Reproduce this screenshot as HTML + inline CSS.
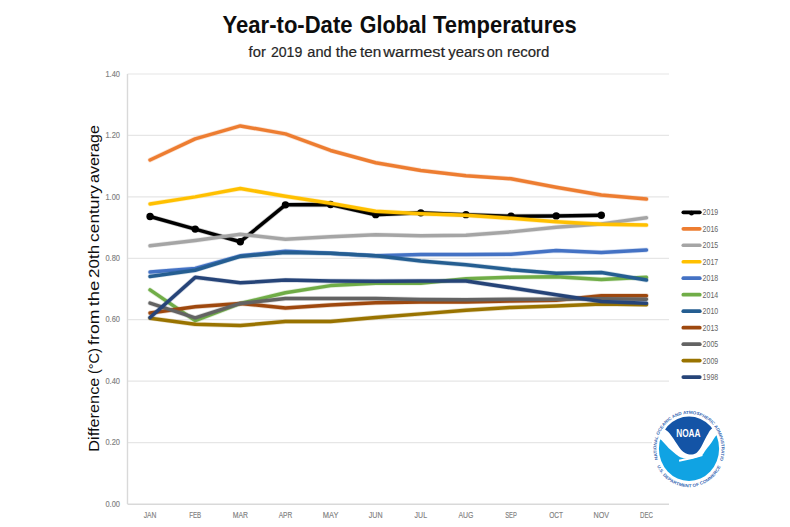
<!DOCTYPE html>
<html><head><meta charset="utf-8"><style>
html,body{margin:0;padding:0;background:#fff;width:790px;height:527px;overflow:hidden}
svg{display:block}
text{font-family:"Liberation Sans",sans-serif}
</style></head><body>
<svg width="790" height="527" viewBox="0 0 790 527">
<rect width="790" height="527" fill="#fff"/>
<text x="222.60" y="32.7" font-size="23.2" font-weight="bold" fill="#0d0d0d" textLength="129.90" lengthAdjust="spacingAndGlyphs">Year-to-Date</text>
<text x="359.80" y="32.7" font-size="23.2" font-weight="bold" fill="#0d0d0d" textLength="66.90" lengthAdjust="spacingAndGlyphs">Global</text>
<text x="433.10" y="32.7" font-size="23.2" font-weight="bold" fill="#0d0d0d" textLength="143.50" lengthAdjust="spacingAndGlyphs">Temperatures</text>
<text x="248.60" y="57.0" font-size="15.3" fill="#262626" stroke="#262626" stroke-width="0.2" textLength="17.20" lengthAdjust="spacingAndGlyphs">for</text>
<text x="270.90" y="57.0" font-size="15.3" fill="#262626" stroke="#262626" stroke-width="0.2" textLength="31.40" lengthAdjust="spacingAndGlyphs">2019</text>
<text x="307.30" y="57.0" font-size="15.3" fill="#262626" stroke="#262626" stroke-width="0.2" textLength="24.30" lengthAdjust="spacingAndGlyphs">and</text>
<text x="335.70" y="57.0" font-size="15.3" fill="#262626" stroke="#262626" stroke-width="0.2" textLength="21.30" lengthAdjust="spacingAndGlyphs">the</text>
<text x="360.00" y="57.0" font-size="15.3" fill="#262626" stroke="#262626" stroke-width="0.2" textLength="21.30" lengthAdjust="spacingAndGlyphs">ten</text>
<text x="383.30" y="57.0" font-size="15.3" fill="#262626" stroke="#262626" stroke-width="0.2" textLength="61.80" lengthAdjust="spacingAndGlyphs">warmest</text>
<text x="448.20" y="57.0" font-size="15.3" fill="#262626" stroke="#262626" stroke-width="0.2" textLength="36.40" lengthAdjust="spacingAndGlyphs">years</text>
<text x="486.70" y="57.0" font-size="15.3" fill="#262626" stroke="#262626" stroke-width="0.2" textLength="16.10" lengthAdjust="spacingAndGlyphs">on</text>
<text x="506.90" y="57.0" font-size="15.3" fill="#262626" stroke="#262626" stroke-width="0.2" textLength="42.50" lengthAdjust="spacingAndGlyphs">record</text>
<g transform="translate(99.3,0) rotate(-90)">
<text x="-451.70" y="0" font-size="13.8" fill="#0d0d0d" textLength="74.10" lengthAdjust="spacingAndGlyphs">Difference</text>
<text x="-374.10" y="0" font-size="13.8" fill="#0d0d0d" textLength="25.90" lengthAdjust="spacingAndGlyphs">(°C)</text>
<text x="-344.90" y="0" font-size="13.8" fill="#0d0d0d" textLength="35.30" lengthAdjust="spacingAndGlyphs">from</text>
<text x="-306.30" y="0" font-size="13.8" fill="#0d0d0d" textLength="25.60" lengthAdjust="spacingAndGlyphs">the</text>
<text x="-277.90" y="0" font-size="13.8" fill="#0d0d0d" textLength="33.00" lengthAdjust="spacingAndGlyphs">20th</text>
<text x="-241.90" y="0" font-size="13.8" fill="#0d0d0d" textLength="56.80" lengthAdjust="spacingAndGlyphs">century</text>
<text x="-183.00" y="0" font-size="13.8" fill="#0d0d0d" textLength="57.80" lengthAdjust="spacingAndGlyphs">average</text>
</g>
<line x1="127.5" y1="442.57" x2="669.0" y2="442.57" stroke="#e6e6e6" stroke-width="1.2"/>
<line x1="127.5" y1="381.14" x2="669.0" y2="381.14" stroke="#e6e6e6" stroke-width="1.2"/>
<line x1="127.5" y1="319.71" x2="669.0" y2="319.71" stroke="#e6e6e6" stroke-width="1.2"/>
<line x1="127.5" y1="258.29" x2="669.0" y2="258.29" stroke="#e6e6e6" stroke-width="1.2"/>
<line x1="127.5" y1="196.86" x2="669.0" y2="196.86" stroke="#e6e6e6" stroke-width="1.2"/>
<line x1="127.5" y1="135.43" x2="669.0" y2="135.43" stroke="#e6e6e6" stroke-width="1.2"/>
<line x1="127.5" y1="74.00" x2="669.0" y2="74.00" stroke="#e6e6e6" stroke-width="1.2"/>
<line x1="127.5" y1="504.3" x2="669.0" y2="504.3" stroke="#d9d9d9" stroke-width="1.4"/>
<line x1="127.5" y1="74.0" x2="127.5" y2="504.0" stroke="#d9d9d9" stroke-width="1.4"/>
<text x="120.0" y="506.70" font-size="9.8" fill="#808080" stroke="#808080" stroke-width="0.15" text-anchor="end" textLength="14.6" lengthAdjust="spacingAndGlyphs">0.00</text>
<text x="120.0" y="445.27" font-size="9.8" fill="#808080" stroke="#808080" stroke-width="0.15" text-anchor="end" textLength="14.6" lengthAdjust="spacingAndGlyphs">0.20</text>
<text x="120.0" y="383.84" font-size="9.8" fill="#808080" stroke="#808080" stroke-width="0.15" text-anchor="end" textLength="14.6" lengthAdjust="spacingAndGlyphs">0.40</text>
<text x="120.0" y="322.41" font-size="9.8" fill="#808080" stroke="#808080" stroke-width="0.15" text-anchor="end" textLength="14.6" lengthAdjust="spacingAndGlyphs">0.60</text>
<text x="120.0" y="260.99" font-size="9.8" fill="#808080" stroke="#808080" stroke-width="0.15" text-anchor="end" textLength="14.6" lengthAdjust="spacingAndGlyphs">0.80</text>
<text x="120.0" y="199.56" font-size="9.8" fill="#808080" stroke="#808080" stroke-width="0.15" text-anchor="end" textLength="14.6" lengthAdjust="spacingAndGlyphs">1.00</text>
<text x="120.0" y="138.13" font-size="9.8" fill="#808080" stroke="#808080" stroke-width="0.15" text-anchor="end" textLength="14.6" lengthAdjust="spacingAndGlyphs">1.20</text>
<text x="120.0" y="76.70" font-size="9.8" fill="#808080" stroke="#808080" stroke-width="0.15" text-anchor="end" textLength="14.6" lengthAdjust="spacingAndGlyphs">1.40</text>
<text x="143.71" y="517.9" font-size="9.2" fill="#808080" stroke="#808080" stroke-width="0.15" textLength="12.7" lengthAdjust="spacingAndGlyphs">JAN</text>
<text x="189.19" y="517.9" font-size="9.2" fill="#808080" stroke="#808080" stroke-width="0.15" textLength="12.0" lengthAdjust="spacingAndGlyphs">FEB</text>
<text x="232.66" y="517.9" font-size="9.2" fill="#808080" stroke="#808080" stroke-width="0.15" textLength="15.3" lengthAdjust="spacingAndGlyphs">MAR</text>
<text x="278.64" y="517.9" font-size="9.2" fill="#808080" stroke="#808080" stroke-width="0.15" textLength="13.6" lengthAdjust="spacingAndGlyphs">APR</text>
<text x="322.76" y="517.9" font-size="9.2" fill="#808080" stroke="#808080" stroke-width="0.15" textLength="15.6" lengthAdjust="spacingAndGlyphs">MAY</text>
<text x="368.79" y="517.9" font-size="9.2" fill="#808080" stroke="#808080" stroke-width="0.15" textLength="13.8" lengthAdjust="spacingAndGlyphs">JUN</text>
<text x="414.61" y="517.9" font-size="9.2" fill="#808080" stroke="#808080" stroke-width="0.15" textLength="12.4" lengthAdjust="spacingAndGlyphs">JUL</text>
<text x="458.44" y="517.9" font-size="9.2" fill="#808080" stroke="#808080" stroke-width="0.15" textLength="15.0" lengthAdjust="spacingAndGlyphs">AUG</text>
<text x="505.21" y="517.9" font-size="9.2" fill="#808080" stroke="#808080" stroke-width="0.15" textLength="11.7" lengthAdjust="spacingAndGlyphs">SEP</text>
<text x="549.29" y="517.9" font-size="9.2" fill="#808080" stroke="#808080" stroke-width="0.15" textLength="13.8" lengthAdjust="spacingAndGlyphs">OCT</text>
<text x="593.51" y="517.9" font-size="9.2" fill="#808080" stroke="#808080" stroke-width="0.15" textLength="15.6" lengthAdjust="spacingAndGlyphs">NOV</text>
<text x="639.99" y="517.9" font-size="9.2" fill="#808080" stroke="#808080" stroke-width="0.15" textLength="12.9" lengthAdjust="spacingAndGlyphs">DEC</text>
<polyline points="150.06,216.51 195.19,229.11 240.31,241.70 285.44,204.84 330.56,204.54 375.69,214.67 420.81,212.83 465.94,214.67 511.06,216.21 556.19,215.90 601.31,215.29" fill="none" stroke="#000000" stroke-width="4.9" stroke-opacity="0.22" stroke-linejoin="round" stroke-linecap="round"/>
<polyline points="150.06,216.51 195.19,229.11 240.31,241.70 285.44,204.84 330.56,204.54 375.69,214.67 420.81,212.83 465.94,214.67 511.06,216.21 556.19,215.90 601.31,215.29" fill="none" stroke="#000000" stroke-width="3.5" stroke-linejoin="round" stroke-linecap="round"/>
<circle cx="150.06" cy="216.51" r="3.7" fill="#000"/>
<circle cx="195.19" cy="229.11" r="3.7" fill="#000"/>
<circle cx="240.31" cy="241.70" r="3.7" fill="#000"/>
<circle cx="285.44" cy="204.84" r="3.7" fill="#000"/>
<circle cx="330.56" cy="204.54" r="3.7" fill="#000"/>
<circle cx="375.69" cy="214.67" r="3.7" fill="#000"/>
<circle cx="420.81" cy="212.83" r="3.7" fill="#000"/>
<circle cx="465.94" cy="214.67" r="3.7" fill="#000"/>
<circle cx="511.06" cy="216.21" r="3.7" fill="#000"/>
<circle cx="556.19" cy="215.90" r="3.7" fill="#000"/>
<circle cx="601.31" cy="215.29" r="3.7" fill="#000"/>
<polyline points="150.06,160.00 195.19,138.81 240.31,125.91 285.44,133.89 330.56,150.48 375.69,162.76 420.81,170.44 465.94,175.66 511.06,178.74 556.19,187.34 601.31,195.01 646.44,199.01" fill="none" stroke="#ed7d31" stroke-width="4.9" stroke-opacity="0.22" stroke-linejoin="round" stroke-linecap="round"/>
<polyline points="150.06,160.00 195.19,138.81 240.31,125.91 285.44,133.89 330.56,150.48 375.69,162.76 420.81,170.44 465.94,175.66 511.06,178.74 556.19,187.34 601.31,195.01 646.44,199.01" fill="none" stroke="#ed7d31" stroke-width="3.5" stroke-linejoin="round" stroke-linecap="round"/>
<polyline points="150.06,245.69 195.19,240.47 240.31,234.33 285.44,239.24 330.56,236.79 375.69,234.64 420.81,235.86 465.94,235.25 511.06,231.87 556.19,227.26 601.31,223.89 646.44,217.74" fill="none" stroke="#a5a5a5" stroke-width="4.9" stroke-opacity="0.22" stroke-linejoin="round" stroke-linecap="round"/>
<polyline points="150.06,245.69 195.19,240.47 240.31,234.33 285.44,239.24 330.56,236.79 375.69,234.64 420.81,235.86 465.94,235.25 511.06,231.87 556.19,227.26 601.31,223.89 646.44,217.74" fill="none" stroke="#a5a5a5" stroke-width="3.5" stroke-linejoin="round" stroke-linecap="round"/>
<polyline points="150.06,203.92 195.19,196.86 240.31,188.56 285.44,196.24 330.56,203.31 375.69,211.29 420.81,213.75 465.94,215.29 511.06,218.36 556.19,221.74 601.31,224.19 646.44,225.11" fill="none" stroke="#ffc000" stroke-width="4.9" stroke-opacity="0.22" stroke-linejoin="round" stroke-linecap="round"/>
<polyline points="150.06,203.92 195.19,196.86 240.31,188.56 285.44,196.24 330.56,203.31 375.69,211.29 420.81,213.75 465.94,215.29 511.06,218.36 556.19,221.74 601.31,224.19 646.44,225.11" fill="none" stroke="#ffc000" stroke-width="3.5" stroke-linejoin="round" stroke-linecap="round"/>
<polyline points="150.06,272.11 195.19,268.42 240.31,255.83 285.44,251.22 330.56,253.37 375.69,255.83 420.81,254.60 465.94,254.60 511.06,254.29 556.19,250.61 601.31,252.45 646.44,249.99" fill="none" stroke="#4472c4" stroke-width="4.9" stroke-opacity="0.22" stroke-linejoin="round" stroke-linecap="round"/>
<polyline points="150.06,272.11 195.19,268.42 240.31,255.83 285.44,251.22 330.56,253.37 375.69,255.83 420.81,254.60 465.94,254.60 511.06,254.29 556.19,250.61 601.31,252.45 646.44,249.99" fill="none" stroke="#4472c4" stroke-width="3.5" stroke-linejoin="round" stroke-linecap="round"/>
<polyline points="150.06,289.92 195.19,320.64 240.31,303.44 285.44,292.69 330.56,285.62 375.69,283.16 420.81,283.16 465.94,278.86 511.06,277.33 556.19,276.71 601.31,279.48 646.44,277.33" fill="none" stroke="#70ad47" stroke-width="4.9" stroke-opacity="0.22" stroke-linejoin="round" stroke-linecap="round"/>
<polyline points="150.06,289.92 195.19,320.64 240.31,303.44 285.44,292.69 330.56,285.62 375.69,283.16 420.81,283.16 465.94,278.86 511.06,277.33 556.19,276.71 601.31,279.48 646.44,277.33" fill="none" stroke="#70ad47" stroke-width="3.5" stroke-linejoin="round" stroke-linecap="round"/>
<polyline points="150.06,276.41 195.19,270.26 240.31,256.44 285.44,252.45 330.56,253.37 375.69,255.83 420.81,261.05 465.94,264.74 511.06,269.65 556.19,273.34 601.31,272.41 646.44,280.09" fill="none" stroke="#255e91" stroke-width="4.9" stroke-opacity="0.22" stroke-linejoin="round" stroke-linecap="round"/>
<polyline points="150.06,276.41 195.19,270.26 240.31,256.44 285.44,252.45 330.56,253.37 375.69,255.83 420.81,261.05 465.94,264.74 511.06,269.65 556.19,273.34 601.31,272.41 646.44,280.09" fill="none" stroke="#255e91" stroke-width="3.5" stroke-linejoin="round" stroke-linecap="round"/>
<polyline points="150.06,312.96 195.19,306.81 240.31,303.44 285.44,308.04 330.56,304.97 375.69,302.82 420.81,301.90 465.94,301.90 511.06,300.98 556.19,300.36 601.31,295.76 646.44,295.76" fill="none" stroke="#9e480e" stroke-width="4.9" stroke-opacity="0.22" stroke-linejoin="round" stroke-linecap="round"/>
<polyline points="150.06,312.96 195.19,306.81 240.31,303.44 285.44,308.04 330.56,304.97 375.69,302.82 420.81,301.90 465.94,301.90 511.06,300.98 556.19,300.36 601.31,295.76 646.44,295.76" fill="none" stroke="#9e480e" stroke-width="3.5" stroke-linejoin="round" stroke-linecap="round"/>
<polyline points="150.06,303.13 195.19,317.87 240.31,303.44 285.44,298.52 330.56,298.52 375.69,298.52 420.81,299.44 465.94,299.75 511.06,299.14 556.19,299.14 601.31,298.83 646.44,299.14" fill="none" stroke="#636363" stroke-width="4.9" stroke-opacity="0.22" stroke-linejoin="round" stroke-linecap="round"/>
<polyline points="150.06,303.13 195.19,317.87 240.31,303.44 285.44,298.52 330.56,298.52 375.69,298.52 420.81,299.44 465.94,299.75 511.06,299.14 556.19,299.14 601.31,298.83 646.44,299.14" fill="none" stroke="#636363" stroke-width="3.5" stroke-linejoin="round" stroke-linecap="round"/>
<polyline points="150.06,318.18 195.19,324.32 240.31,325.55 285.44,321.56 330.56,321.56 375.69,317.56 420.81,313.88 465.94,310.19 511.06,307.43 556.19,305.89 601.31,304.05 646.44,304.66" fill="none" stroke="#997300" stroke-width="4.9" stroke-opacity="0.22" stroke-linejoin="round" stroke-linecap="round"/>
<polyline points="150.06,318.18 195.19,324.32 240.31,325.55 285.44,321.56 330.56,321.56 375.69,317.56 420.81,313.88 465.94,310.19 511.06,307.43 556.19,305.89 601.31,304.05 646.44,304.66" fill="none" stroke="#997300" stroke-width="3.5" stroke-linejoin="round" stroke-linecap="round"/>
<polyline points="150.06,317.56 195.19,277.33 240.31,282.86 285.44,280.09 330.56,281.01 375.69,281.32 420.81,281.01 465.94,281.01 511.06,287.77 556.19,294.84 601.31,301.59 646.44,303.13" fill="none" stroke="#264478" stroke-width="4.9" stroke-opacity="0.22" stroke-linejoin="round" stroke-linecap="round"/>
<polyline points="150.06,317.56 195.19,277.33 240.31,282.86 285.44,280.09 330.56,281.01 375.69,281.32 420.81,281.01 465.94,281.01 511.06,287.77 556.19,294.84 601.31,301.59 646.44,303.13" fill="none" stroke="#264478" stroke-width="3.5" stroke-linejoin="round" stroke-linecap="round"/>
<line x1="683.3" y1="212.30" x2="699.8" y2="212.30" stroke="#000000" stroke-width="3.7" stroke-linecap="round"/>
<circle cx="691.5" cy="213.20" r="2.4" fill="#000"/>
<text x="702.6" y="215.20" font-size="9" fill="#666666" textLength="15.6" lengthAdjust="spacingAndGlyphs">2019</text>
<line x1="683.3" y1="228.78" x2="699.8" y2="228.78" stroke="#ed7d31" stroke-width="3.7" stroke-linecap="round"/>
<text x="702.6" y="231.68" font-size="9" fill="#666666" textLength="15.6" lengthAdjust="spacingAndGlyphs">2016</text>
<line x1="683.3" y1="245.26" x2="699.8" y2="245.26" stroke="#a5a5a5" stroke-width="3.7" stroke-linecap="round"/>
<text x="702.6" y="248.16" font-size="9" fill="#666666" textLength="15.6" lengthAdjust="spacingAndGlyphs">2015</text>
<line x1="683.3" y1="261.74" x2="699.8" y2="261.74" stroke="#ffc000" stroke-width="3.7" stroke-linecap="round"/>
<text x="702.6" y="264.64" font-size="9" fill="#666666" textLength="15.6" lengthAdjust="spacingAndGlyphs">2017</text>
<line x1="683.3" y1="278.22" x2="699.8" y2="278.22" stroke="#4472c4" stroke-width="3.7" stroke-linecap="round"/>
<text x="702.6" y="281.12" font-size="9" fill="#666666" textLength="15.6" lengthAdjust="spacingAndGlyphs">2018</text>
<line x1="683.3" y1="294.70" x2="699.8" y2="294.70" stroke="#70ad47" stroke-width="3.7" stroke-linecap="round"/>
<text x="702.6" y="297.60" font-size="9" fill="#666666" textLength="15.6" lengthAdjust="spacingAndGlyphs">2014</text>
<line x1="683.3" y1="311.18" x2="699.8" y2="311.18" stroke="#255e91" stroke-width="3.7" stroke-linecap="round"/>
<text x="702.6" y="314.08" font-size="9" fill="#666666" textLength="15.6" lengthAdjust="spacingAndGlyphs">2010</text>
<line x1="683.3" y1="327.66" x2="699.8" y2="327.66" stroke="#9e480e" stroke-width="3.7" stroke-linecap="round"/>
<text x="702.6" y="330.56" font-size="9" fill="#666666" textLength="15.6" lengthAdjust="spacingAndGlyphs">2013</text>
<line x1="683.3" y1="344.14" x2="699.8" y2="344.14" stroke="#636363" stroke-width="3.7" stroke-linecap="round"/>
<text x="702.6" y="347.04" font-size="9" fill="#666666" textLength="15.6" lengthAdjust="spacingAndGlyphs">2005</text>
<line x1="683.3" y1="360.62" x2="699.8" y2="360.62" stroke="#997300" stroke-width="3.7" stroke-linecap="round"/>
<text x="702.6" y="363.52" font-size="9" fill="#666666" textLength="15.6" lengthAdjust="spacingAndGlyphs">2009</text>
<line x1="683.3" y1="377.10" x2="699.8" y2="377.10" stroke="#264478" stroke-width="3.7" stroke-linecap="round"/>
<text x="702.6" y="380.00" font-size="9" fill="#666666" textLength="15.6" lengthAdjust="spacingAndGlyphs">1998</text>
<rect x="652" y="404" width="80" height="84" fill="#fff"/>
<defs><clipPath id="cc"><ellipse cx="689.0" cy="448.7" rx="30.1" ry="32.21"/></clipPath>
<path id="arcT" d="M 658.00,459.48 A 32.6 34.88 0 1 1 720.00,459.48"/>
<path id="arcB" d="M 657.01,466.14 A 35.9 38.41 0 0 0 720.99,466.14"/>
</defs>
<g clip-path="url(#cc)">
<rect x="655" y="412" width="70" height="70" fill="#fff"/>
<path d="M 654.00,435.50 C 655.10,436.18 658.77,438.18 660.60,439.60 C 662.43,441.02 663.43,442.38 665.00,444.00 C 666.57,445.62 667.90,447.38 670.00,449.30 C 672.10,451.22 675.58,454.08 677.60,455.50 C 679.62,456.92 680.37,457.23 682.10,457.80 C 683.83,458.37 685.85,458.90 688.00,458.90 C 690.15,458.90 692.68,458.42 695.00,457.80 C 697.32,457.18 700.17,456.43 701.90,455.20 C 703.63,453.97 704.13,452.07 705.40,450.40 C 706.67,448.73 708.27,446.87 709.50,445.20 C 710.73,443.53 711.68,442.03 712.80,440.40 C 713.92,438.77 714.33,437.63 716.20,435.40 C 718.07,433.17 722.70,428.40 724.00,427.00 L 724,485 L 655,485 Z" fill="#10a3e3"/>
<path d="M 654.00,420.50 C 655.87,421.98 662.62,427.28 665.20,429.40 C 667.78,431.52 668.12,431.63 669.50,433.20 C 670.88,434.77 672.20,436.90 673.50,438.80 C 674.80,440.70 676.05,442.77 677.30,444.60 C 678.55,446.43 679.63,448.35 681.00,449.80 C 682.37,451.25 683.83,452.50 685.50,453.30 C 687.17,454.10 689.25,454.62 691.00,454.60 C 692.75,454.58 694.58,454.05 696.00,453.20 C 697.42,452.35 698.43,450.95 699.50,449.50 C 700.57,448.05 701.42,446.32 702.40,444.50 C 703.38,442.68 704.40,440.48 705.40,438.60 C 706.40,436.72 707.30,434.87 708.40,433.20 C 709.50,431.53 709.40,430.97 712.00,428.60 C 714.60,426.23 722.00,420.60 724.00,419.00 L 724,405 L 655,405 Z" fill="#1454a6"/>
<path d="M 679.1,460.7 Q 690,458.9 702.4,455.0" fill="none" stroke="#fff" stroke-width="1.9"/>
</g>
<text font-size="10.4" font-weight="bold" fill="#fff" x="676.2" y="436.9" textLength="24.4" lengthAdjust="spacingAndGlyphs">NOAA</text>
<text font-size="4.3" font-weight="bold" fill="#3a6ab4"><textPath href="#arcT" textLength="132" lengthAdjust="spacingAndGlyphs">NATIONAL OCEANIC AND ATMOSPHERIC ADMINISTRATION</textPath></text>
<text font-size="4.3" font-weight="bold" fill="#3a6ab4"><textPath href="#arcB" textLength="80" lengthAdjust="spacingAndGlyphs">U.S. DEPARTMENT OF COMMERCE</textPath></text>
</svg>
</body></html>
